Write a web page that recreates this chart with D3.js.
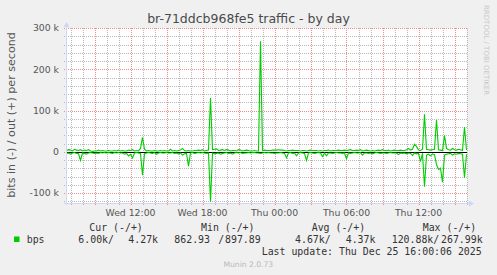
<!DOCTYPE html>
<html>
<head>
<meta charset="utf-8">
<script src="https://cdn.jsdelivr.net/npm/d3@7"></script>
<style>
  body { margin: 0; background: #f0f0f0; }
  svg { display: block; }
</style>
</head>
<body>
<svg id="chart" width="497" height="275"></svg>
<script>
// samples every 10 min starting Wed 24 Dec 06:40, values in kbit/s
const startTime = new Date(2025, 11, 24, 6, 40);
const stepMinutes = 10;

const outValues = [
  3,5,4,2,6,4,3,5,2,4, 3,5,2,1,2,2,4,2,3,2,
  2,3,2,2,3,2,4,2,3,2, 2,4,3,5,2,3,2,8,35,6,
  2,3,2,2,3,2,2,3,2,3, 2,2,6,2,3,2,3,4,8,3,
  2,3,2,2,3,3,4,3,5,2, 3,4,130,5,6,7,3,4,5,3,
  5,4,2,3,3,2,5,4,2,3, 4,3,2,2,3,2,2,268,3,4,
  3,3,3,4,4,4,5,4,4,3, 2,3,3,4,3,3,3,2,3,3,
  2,3,4,3,3,3,2,3,2,3, 3,4,2,3,3,3,4,3,3,4,
  3,4,5,3,3,4,3,5,2,3, 4,3,2,3,2,3,4,3,5,3,
  3,4,2,3,4,3,3,4,3,3, 5,8,4,6,18,13,4,3,6,91,
  6,5,4,5,6,77,5,4,3,39, 8,5,4,8,5,4,6,5,3,60,4.27
];

const inValues = [
  4,3,6,3,2,4,5,21,3,4, 6,3,2,3,4,3,4,2,3,2,
  3,2,3,4,2,3,2,3,3,6, 4,10,6,15,3,2,3,4,57,5,
  3,2,3,4,2,6,3,2,3,3, 2,3,3,2,4,3,6,3,8,5,
  4,35,3,2,4,3,2,3,2,3, 4,3,121,3,5,4,3,6,4,3,
  2,4,3,6,3,2,3,2,4,3, 3,2,3,2,2,3,3,4,3,2,
  3,2,3,3,4,3,3,2,3,4, 15,3,2,4,3,10,3,2,3,4,
  21,3,2,3,4,3,2,3,12,3, 10,3,3,4,3,2,3,3,4,3,
  17,3,4,3,2,3,3,2,8,3, 3,4,3,5,3,2,3,4,3,3,
  4,3,2,3,3,3,7,3,4,3, 5,3,4,9,3,5,4,24,4,85,
  8,6,10,5,7,31,43,40,74,8, 6,5,4,8,5,6,4,5,6,63,6.00
];

const yTickValues = [-100000, 0, 100000, 200000, 300000];
const xLabelTimes = [
  new Date(2025, 11, 24, 12), new Date(2025, 11, 24, 18),
  new Date(2025, 11, 25, 0), new Date(2025, 11, 25, 6), new Date(2025, 11, 25, 12)
];
const legendHeaders = ["Cur (-/+)", "Min (-/+)", "Avg (-/+)", "Max (-/+)"];
const legendValues = ["6.00k/", "4.27k", "862.93", "/", "897.89", "4.67k/", "4.37k", "120.88k/", "267.99k"];

const svg = d3.select("#chart");
const plot = {left: 67, right: 467, top: 28, bottom: 203};

const x = d3.scaleTime()
  .domain([startTime, new Date(2025, 11, 25, 16, 0)])
  .range([plot.left - 0.5, plot.right - 0.5]);
const y = d3.scaleLinear().domain([-124240, 300000]).range([plot.bottom, plot.top]);

const crisp = v => Math.round(v) + 0.5;

svg.append("rect").attr("width", 497).attr("height", 275).attr("fill", "#f0f0f0");
svg.append("rect")
  .attr("x", plot.left).attr("y", plot.top)
  .attr("width", plot.right - plot.left).attr("height", plot.bottom - plot.top)
  .attr("fill", "#ffffff");

const minorColor = "#b8b8b8", majorColor = "#e88e8e";

// vertical grid: every hour, major every 3 hours
const hours = d3.timeHour.range(new Date(2025, 11, 24, 7), new Date(2025, 11, 25, 16, 1));
svg.append("g").selectAll("line").data(hours).join("line")
  .attr("x1", d => crisp(x(d))).attr("x2", d => crisp(x(d)))
  .attr("y1", plot.top).attr("y2", plot.bottom + 3)
  .attr("stroke", d => d.getHours() % 3 === 0 ? majorColor : minorColor)
  .attr("stroke-dasharray", "1,1");

// horizontal grid: every 20k, major every 100k
const yGrid = d3.range(-120000, 300001, 20000);
svg.append("g").selectAll("line").data(yGrid).join("line")
  .attr("x1", plot.left - 3).attr("x2", plot.right)
  .attr("y1", d => crisp(y(d))).attr("y2", d => crisp(y(d)))
  .attr("stroke", d => d % 100000 === 0 ? majorColor : minorColor)
  .attr("stroke-dasharray", "1,1");

// axes
const axisColor = "#cfd6f8";
svg.append("line").attr("x1", plot.left - 0.5).attr("x2", plot.left - 0.5)
  .attr("y1", plot.top - 3).attr("y2", plot.bottom + 2).attr("stroke", axisColor);
svg.append("line").attr("x1", plot.left - 3).attr("x2", plot.right + 4)
  .attr("y1", plot.bottom + 0.5).attr("y2", plot.bottom + 0.5).attr("stroke", axisColor);
svg.append("path")
  .attr("d", `M${plot.left - 3.5},${plot.top - 1} L${plot.left - 0.5},${plot.top - 6} L${plot.left + 2.5},${plot.top - 1} Z`)
  .attr("fill", axisColor);
svg.append("path")
  .attr("d", `M${plot.right + 2},${plot.bottom - 2.5} L${plot.right + 7},${plot.bottom + 0.5} L${plot.right + 2},${plot.bottom + 3.5} Z`)
  .attr("fill", axisColor);

// y tick labels
const kFormat = d => d === 0 ? "0" : (d / 1000) + " k";
svg.append("g").selectAll("text").data(yTickValues).join("text")
  .attr("x", 59).attr("y", d => y(d) + 3.3)
  .attr("text-anchor", "end")
  .attr("font-family", "DejaVu Sans").attr("font-size", 9.3).attr("fill", "#555")
  .text(kFormat);

// x labels
const timeFmt = d3.timeFormat("%a %H:%M");
svg.append("g").selectAll("text").data(xLabelTimes).join("text")
  .attr("x", d => x(d)).attr("y", 215.5)
  .attr("text-anchor", "middle")
  .attr("font-family", "DejaVu Sans").attr("font-size", 9.3).attr("fill", "#555")
  .text(timeFmt);

// series
const times = outValues.map((v, i) => d3.timeMinute.offset(startTime, i * stepMinutes));
svg.append("clipPath").attr("id", "plotclip").append("rect")
  .attr("x", plot.left).attr("y", plot.top)
  .attr("width", plot.right - plot.left).attr("height", plot.bottom - plot.top);

svg.append("line").attr("x1", plot.left).attr("x2", plot.right)
  .attr("y1", crisp(y(0))).attr("y2", crisp(y(0))).attr("stroke", "#000");

const line = d3.line().x(d => d[0]).y(d => d[1]);
const outPts = outValues.map((v, i) => [x(times[i]), y(v * 1000)]);
const inPts = inValues.map((v, i) => [x(times[i]), y(-v * 1000)]);
[inPts, outPts].forEach(pts => {
  svg.append("path").attr("d", line(pts))
    .attr("clip-path", "url(#plotclip)")
    .attr("fill", "none").attr("stroke", "#00cc00").attr("stroke-width", 1.1);
});

// titles
svg.append("text").attr("x", 248.5).attr("y", 22.8)
  .attr("text-anchor", "middle")
  .attr("font-family", "DejaVu Sans").attr("font-size", 12.5).attr("fill", "#4a4a4a")
  .text("br-71ddcb968fe5 traffic - by day");

svg.append("text")
  .attr("transform", "translate(15,115) rotate(-90)")
  .attr("text-anchor", "middle")
  .attr("font-family", "DejaVu Sans").attr("font-size", 11.1).attr("fill", "#555")
  .text("bits in (-) / out (+) per second");

svg.append("text")
  .attr("transform", "translate(484,5) rotate(90)")
  .attr("font-family", "DejaVu Sans").attr("font-size", 7).attr("fill", "#c8c8c8")
  .text("RRDTOOL / TOBI OETIKER");

// legend
const mono = "DejaVu Sans Mono";
const headerX = [89.3, 201, 311.7, 422.7];
svg.append("g").selectAll("text").data(legendHeaders).join("text")
  .attr("x", (d, i) => headerX[i]).attr("y", 231)
  .attr("font-family", mono).attr("font-size", 9.9).attr("fill", "#333")
  .text(d => d);

svg.append("rect").attr("x", 14).attr("y", 236.5).attr("width", 5.5).attr("height", 5.5).attr("fill", "#00cc00");
svg.append("text").attr("x", 26.7).attr("y", 242.8)
  .attr("font-family", mono).attr("font-size", 9.9).attr("fill", "#333").text("bps");

const valueX = [78.3, 128.3, 174.3, 218.3, 225, 295, 345.7, 391.7, 441];
svg.append("g").selectAll("text").data(legendValues).join("text")
  .attr("x", (d, i) => valueX[i]).attr("y", 242.8)
  .attr("font-family", mono).attr("font-size", 9.9).attr("fill", "#333")
  .text(d => d);

svg.append("text").attr("x", 261.7).attr("y", 255)
  .attr("font-family", mono).attr("font-size", 9.9).attr("fill", "#333")
  .text("Last update: Thu Dec 25 16:00:06 2025");

svg.append("text").attr("x", 248.3).attr("y", 267)
  .attr("text-anchor", "middle")
  .attr("font-family", "DejaVu Sans").attr("font-size", 7.6).attr("fill", "#b8b8b8")
  .text("Munin 2.0.73");
</script>
</body>
</html>
